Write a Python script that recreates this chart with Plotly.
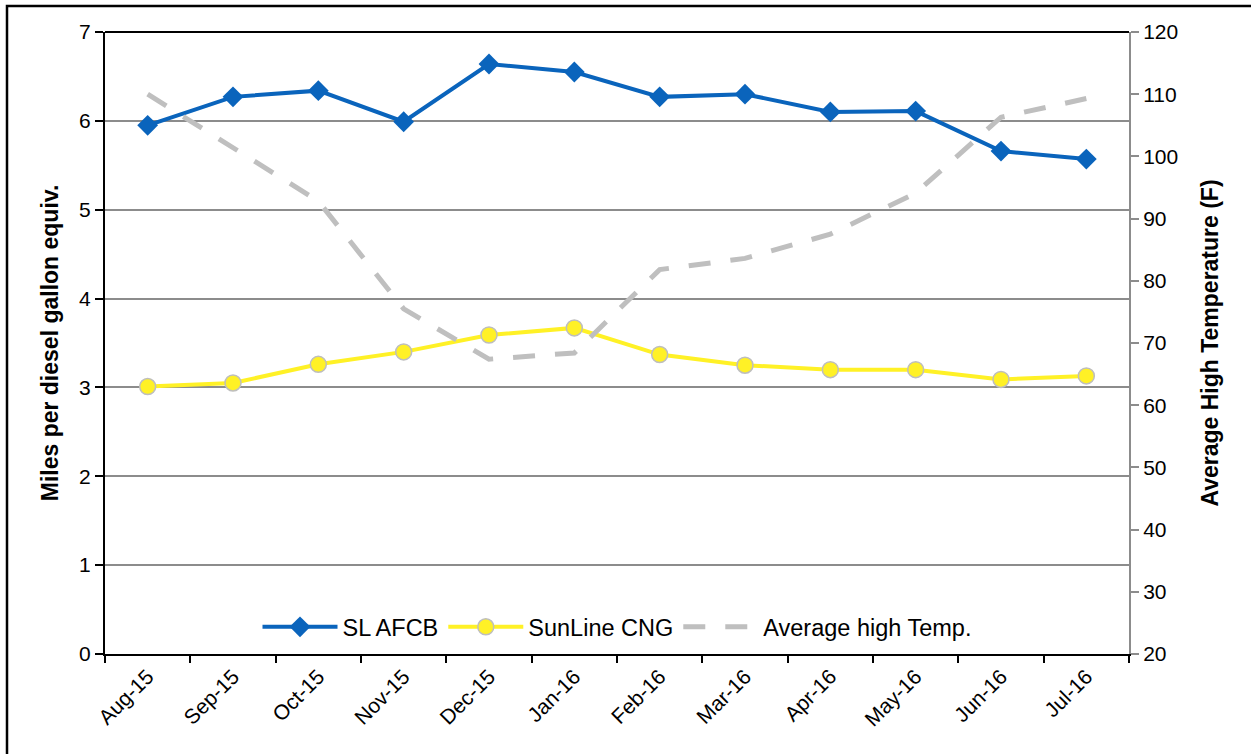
import plotly.graph_objects as go

months = ["Aug-15", "Sep-15", "Oct-15", "Nov-15", "Dec-15", "Jan-16",
          "Feb-16", "Mar-16", "Apr-16", "May-16", "Jun-16", "Jul-16"]
sl_afcb = [5.95, 6.27, 6.34, 5.99, 6.64, 6.55, 6.27, 6.30, 6.10, 6.11, 5.66, 5.57]
sunline_cng = [3.01, 3.05, 3.26, 3.40, 3.59, 3.67, 3.37, 3.25, 3.20, 3.20, 3.09, 3.13]
avg_high_temp = [110.0, 101.5, 92.8, 75.5, 67.4, 68.4, 81.8, 83.6, 87.5, 94.1, 106.3, 109.3]
left_ticks = [0, 1, 2, 3, 4, 5, 6, 7]
right_ticks = [20, 30, 40, 50, 60, 70, 80, 90, 100, 110, 120]

FONT = "Liberation Sans, Arial, sans-serif"

fig = go.Figure()
# dashed temperature line first so it sits beneath the other series
fig.add_trace(go.Scatter(
    x=months, y=avg_high_temp, name="Average high Temp.", mode="lines",
    yaxis="y2", legendrank=3,
    line=dict(color="#BFBFBF", width=5, dash="22px,20px"),
))
fig.add_trace(go.Scatter(
    x=months, y=sl_afcb, name="SL AFCB", mode="lines+markers", legendrank=1,
    line=dict(color="#0A64BC", width=4),
    marker=dict(symbol="diamond", size=16, color="#0A64BC"),
))
fig.add_trace(go.Scatter(
    x=months, y=sunline_cng, name="SunLine CNG", mode="lines+markers", legendrank=2,
    line=dict(color="#FFF126", width=4),
    marker=dict(symbol="circle", size=16, color="#FFF126",
                line=dict(color="#BEBEBE", width=1.5)),
))

fig.update_layout(
    width=1251, height=754,
    margin=dict(l=105, r=122, t=32, b=100),
    paper_bgcolor="white", plot_bgcolor="white",
    font=dict(family=FONT, size=21, color="black"),
    showlegend=True,
    legend=dict(orientation="h", x=0.5, xanchor="center", y=0.008, yanchor="bottom",
                bgcolor="rgba(0,0,0,0)", font=dict(size=23.5), itemwidth=75,
                traceorder="normal"),
    xaxis=dict(
        type="category", tickson="boundaries", ticks="outside", ticklen=7,
        tickcolor="black", tickwidth=1.5,
        showline=True, linecolor="black", linewidth=2, mirror=False,
        showgrid=False, tickangle=-45, tickfont=dict(size=21),
        range=[-0.5, 11.5],
    ),
    yaxis=dict(
        range=[0, 7], tickvals=left_ticks, ticks="outside", ticklen=8,
        tickcolor="black", tickwidth=1.5,
        showline=True, linecolor="black", linewidth=2,
        showgrid=True, gridcolor="#8C8C8C", gridwidth=1.5,
        zeroline=False, tickfont=dict(size=21),
        title=dict(text="<b>Miles per diesel gallon equiv.</b>", font=dict(size=23), standoff=14),
    ),
    yaxis2=dict(
        range=[20, 120], tickvals=right_ticks, overlaying="y", side="right",
        ticks="outside", ticklen=8, tickcolor="#8C8C8C", tickwidth=1.5,
        showline=True, linecolor="#8C8C8C", linewidth=2,
        showgrid=False, zeroline=False, tickfont=dict(size=21),
        title=dict(text="<b>Average High Temperature (F)</b>", font=dict(size=23), standoff=25),
    ),
    shapes=[
        dict(type="line", xref="paper", yref="paper", x0=0, x1=1, y0=1, y1=1,
             line=dict(color="black", width=2)),
        dict(type="rect", xref="paper", yref="paper",
             x0=-98/1024, x1=1.2, y0=-0.3, y1=1 + 26/622,
             line=dict(color="black", width=2.5), fillcolor="rgba(0,0,0,0)", layer="above"),
    ],
)

fig.write_html("out.html", config={"displayModeBar": False},
               post_script="document.body.style.margin='0';")
